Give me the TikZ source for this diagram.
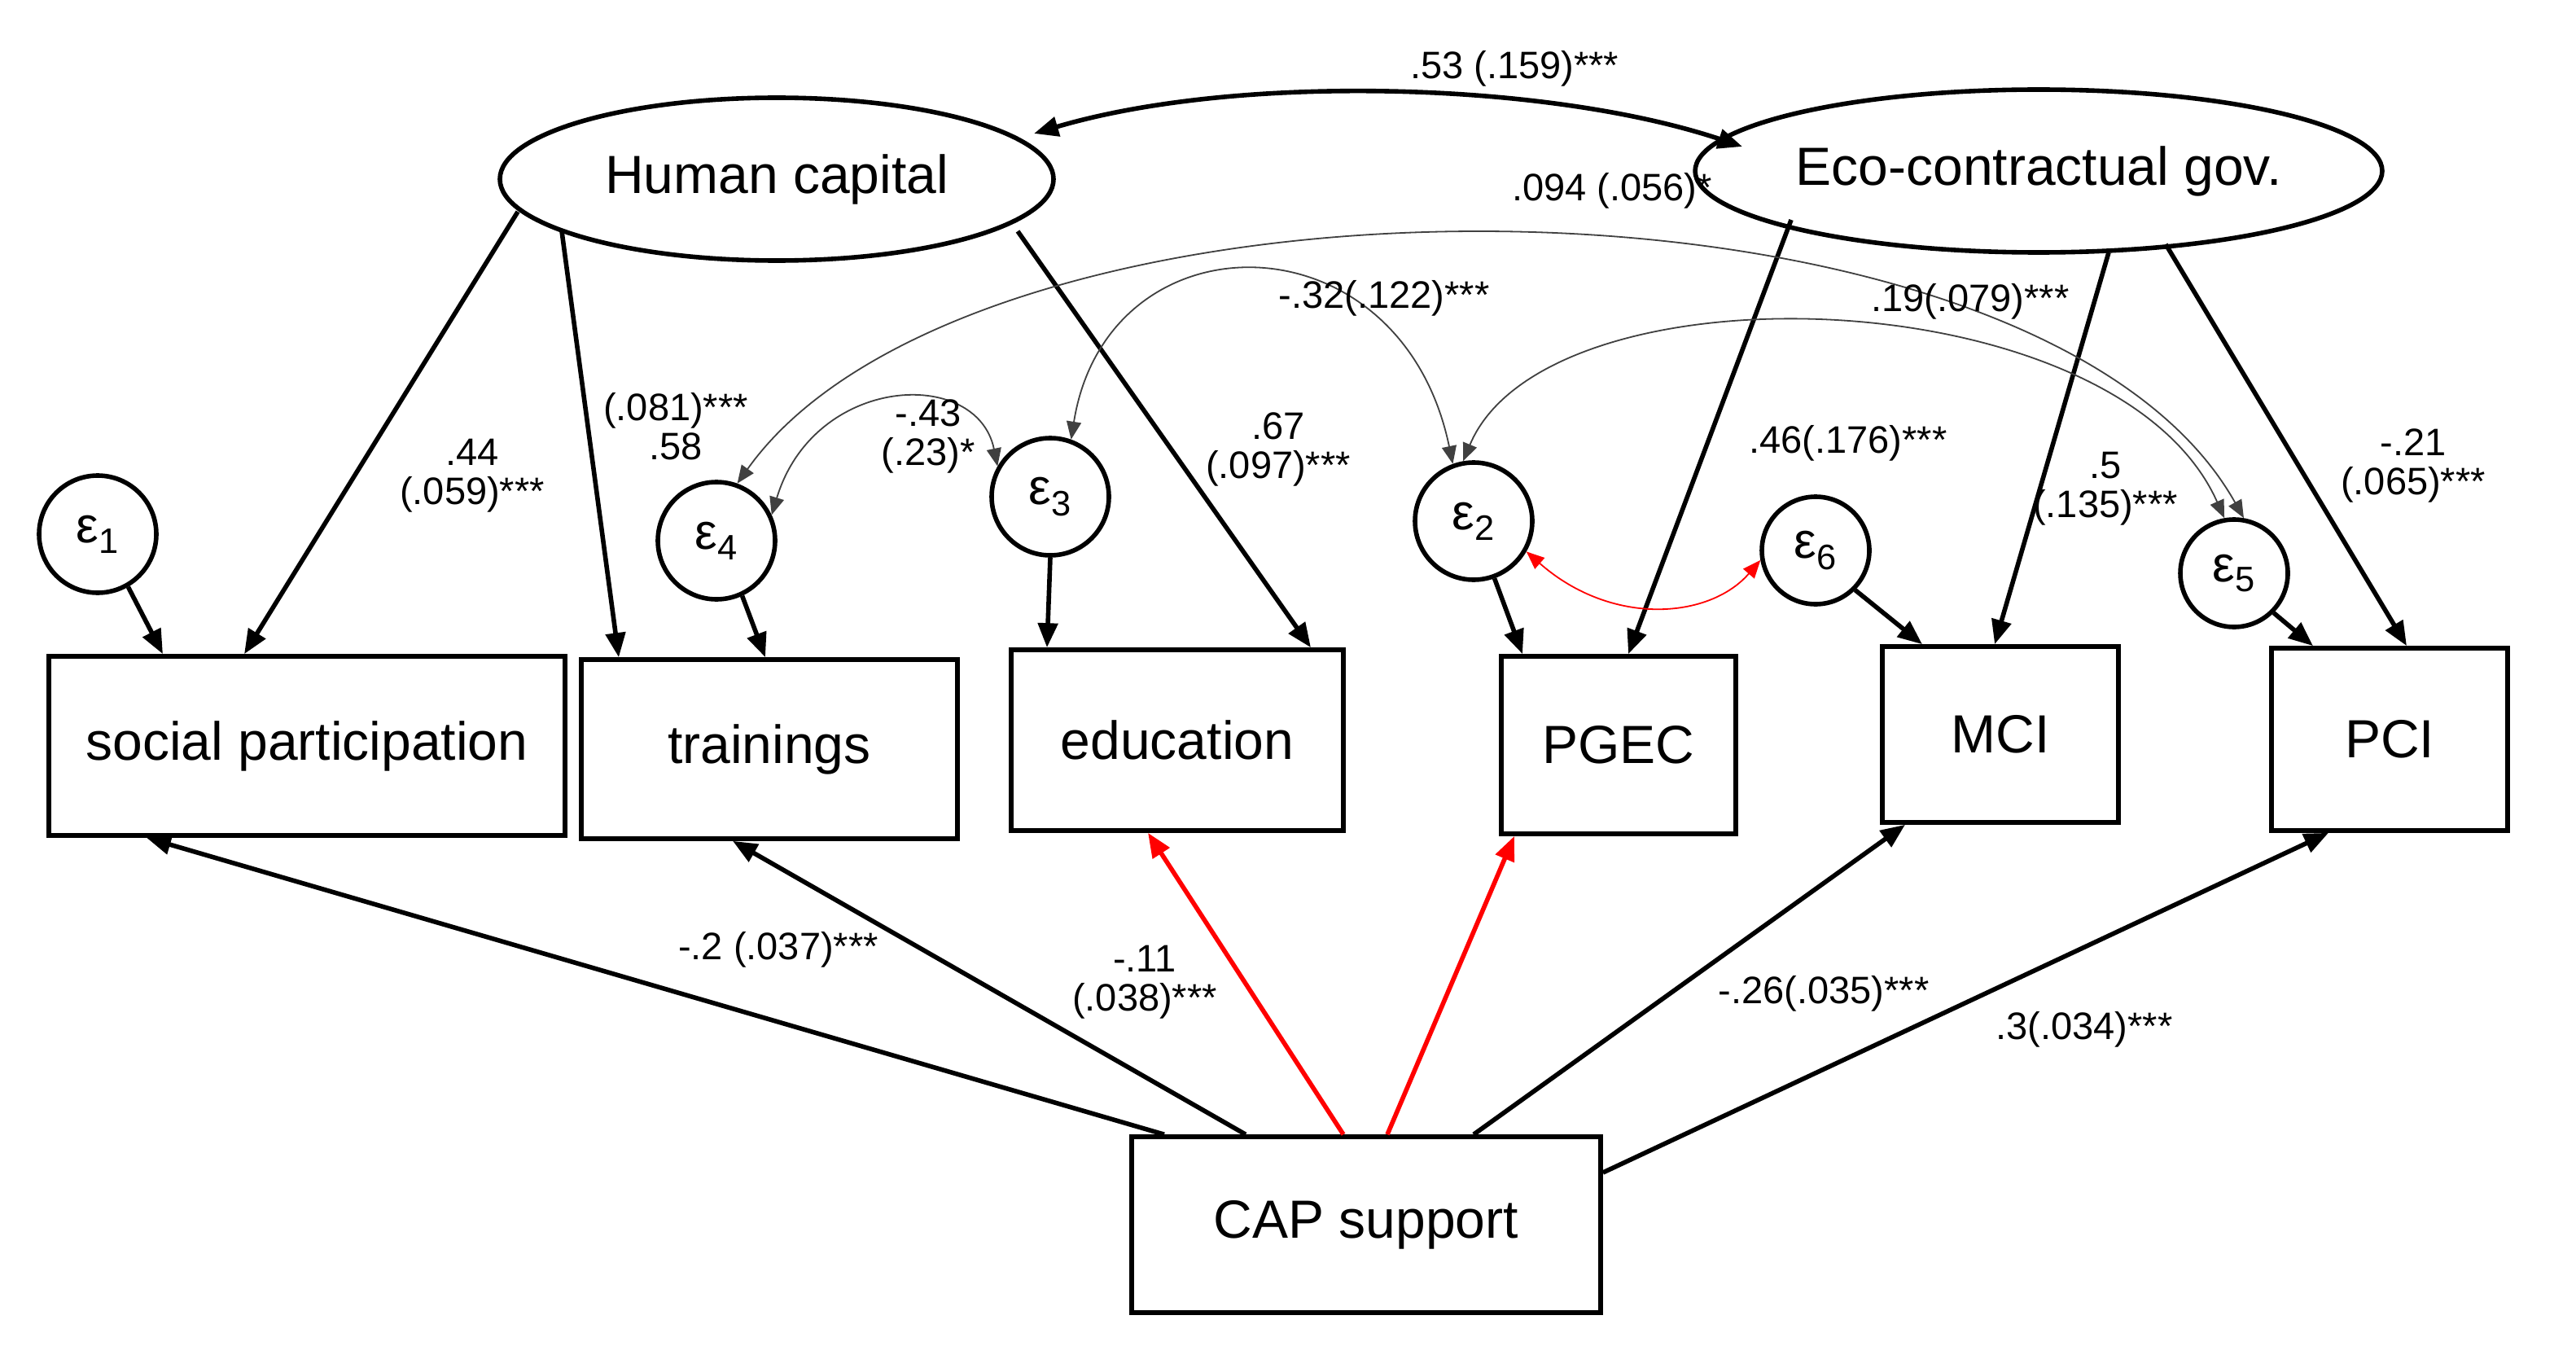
\documentclass[tikz,border=0pt]{standalone}
\usepackage{fontspec}
\setmainfont{Liberation Sans}
\usetikzlibrary{arrows.meta,shapes.geometric}
\begin{document}
\begin{tikzpicture}[x=1pt,y=-1pt,
  box/.style={draw,line width=2.8pt,inner sep=0pt,font=\fontsize{33}{35}\selectfont},
  lat/.style={draw,ellipse,line width=2.8pt,inner sep=0pt,font=\fontsize{33}{35}\selectfont},
  err/.style={draw,circle,line width=2.8pt,minimum size=72pt,inner sep=0pt,font=\fontsize{31}{33}\selectfont},
  lab/.style={font=\fontsize{23.5}{24}\selectfont,inner sep=1pt,align=center},
  path/.style={line width=2.8pt,-{Triangle[length=15pt,width=12pt]}},
  rpath/.style={path,red},
  cov/.style={line width=0.9pt,draw=black!75,{Triangle[length=11pt,width=9pt]}-{Triangle[length=11pt,width=9pt]}},
  rcov/.style={cov,draw=red}]
\useasboundingbox (0,0) rectangle (1582,840);
\node[lat,minimum width=340pt,minimum height=100pt] (hc) at (477,110) {Human capital};
\node[lat,minimum width=366pt,minimum height=100pt] (eco) at (1252,105) {Eco-contractual gov.};
\node[box,minimum width=317pt,minimum height=110pt] (sp) at (188.5,458) {social participation};
\node[box,minimum width=231pt,minimum height=110pt] (tr) at (472.5,460) {trainings};
\node[box,minimum width=204pt,minimum height=111pt] (ed) at (723,454.5) {education};
\node[box,minimum width=144pt,minimum height=109pt] (pg) at (994,457.5) {PGEC};
\node[box,minimum width=145pt,minimum height=108pt] (mc) at (1228.5,451) {MCI};
\node[box,minimum width=145pt,minimum height=112pt] (pc) at (1467.5,454) {PCI};
\node[box,minimum width=288pt,minimum height=108pt] (cap) at (839,752) {CAP support};
\node[err] (e1) at (60,328) {ε\textsubscript{1}};
\node[err] (e4) at (440,332) {ε\textsubscript{4}};
\node[err] (e3) at (645,305) {ε\textsubscript{3}};
\node[err] (e2) at (905,320) {ε\textsubscript{2}};
\node[err,minimum size=66pt] (e6) at (1115,338) {ε\textsubscript{6}};
\node[err,minimum size=66pt] (e5) at (1372,352) {ε\textsubscript{5}};
% latent paths
\draw[path] ([xshift=-159pt,yshift=-20pt]hc.center) -- ([xshift=-38.5pt]sp.north);
\draw[path] ([xshift=-132pt,yshift=-32pt]hc.center) -- ([xshift=-92.5pt]tr.north);
\draw[path] ([xshift=148pt,yshift=-32pt]hc.center) -- ([xshift=82pt]ed.north);
\draw[path] ([xshift=-152pt,yshift=-30pt]eco.center) -- ([xshift=6pt]pg.north);
\draw[path] ([xshift=43pt,yshift=-50pt]eco.center) -- ([xshift=-3.5pt]mc.north);
\draw[path] ([xshift=78pt,yshift=-45pt]eco.center) -- ([xshift=10.5pt]pc.north);
\draw[line width=2.8pt,{Triangle[length=15pt,width=12pt]}-{Triangle[length=15pt,width=12pt]}]
  ([xshift=158pt,yshift=28pt]hc.center) .. controls (760,45) and (950,50) .. ([xshift=-182pt,yshift=15pt]eco.center);
% errors
\draw[path] (e1.-60) -- ([xshift=-88.5pt]sp.north);
\draw[path] (e4.-65) -- ([xshift=-2.5pt]tr.north);
\draw[path] (e3.south) -- ([xshift=-80pt]ed.north);
\draw[path] (e2.-70) -- ([xshift=-59pt]pg.north);
\draw[path] (e6.-45) -- ([xshift=-48pt]mc.north);
\draw[path] (e5.-45) -- ([xshift=-47pt]pc.north);
% covariances
\draw[cov] (e4.70) .. controls (600,90) and (1250,90) .. (e5.80);
\draw[cov] (e4.25) .. controls (500,230) and (600,225) .. (e3.150);
\draw[cov] (e3.70) .. controls (680,130) and (860,130) .. (e2.110);
\draw[cov] (e2.100) .. controls (950,160) and (1300,170) .. (e5.100);
\draw[rcov] (e2.-30) .. controls (990,385) and (1050,380) .. (e6.190);
% CAP paths
\draw[path] ([xshift=-124pt]cap.north) -- ([xshift=-98.5pt]sp.south);
\draw[path] ([xshift=-74pt]cap.north) -- ([xshift=-22.5pt]tr.south);
\draw[rpath] ([xshift=-14pt]cap.north) -- ([xshift=-18pt]ed.south);
\draw[rpath] ([xshift=13pt]cap.north) -- ([xshift=-64pt]pg.south);
\draw[path] ([xshift=66pt]cap.north) -- ([xshift=-58.5pt]mc.south);
\draw[path] ([yshift=32pt]cap.east) -- ([xshift=-37.5pt]pc.south);
% labels
\node[lab] (l1) at (930,42) {.53 (.159)***};
\node[lab] (l2) at (990,117) {.094 (.056)*};
\node[lab] (l3) at (850,183) {-.32(.122)***};
\node[lab] (l4) at (1210,185) {.19(.079)***};
\node[lab] (l5) at (290,292) {.44\\(.059)***};
\node[lab] (l6) at (415,262) {(.081)***\\.58};
\node[lab] (l7) at (570,268) {-.43\\(.23)*};
\node[lab] (l8) at (785,276) {.67\\(.097)***};
\node[lab] (l9) at (1135,272) {.46(.176)***};
\node[lab] (l10) at (1293,300) {.5\\(.135)***};
\node[lab] (l11) at (1482,286) {-.21\\(.065)***};
\node[lab] (l12) at (478,583) {-.2 (.037)***};
\node[lab] (l13) at (703,603) {-.11\\(.038)***};
\node[lab] (l14) at (1120,610) {-.26(.035)***};
\node[lab] (l15) at (1280,632) {.3(.034)***};
\end{tikzpicture}
\end{document}
